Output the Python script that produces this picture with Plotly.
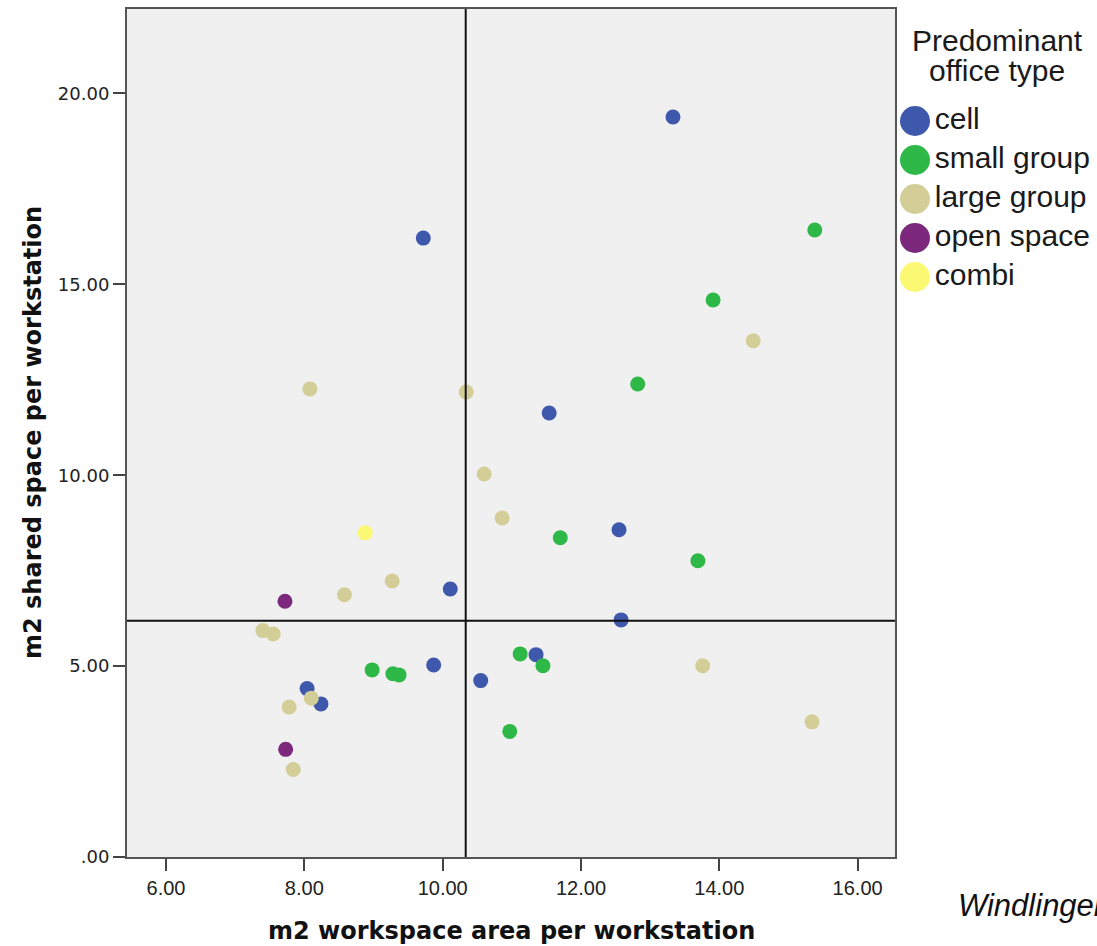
import plotly.graph_objects as go

# ---- data ----
categories = ["cell", "small group", "large group", "open space", "combi"]
colors = ["#3E58AC", "#2EB848", "#D3CE97", "#7C287D", "#FBF873"]

cell_x = [13.33, 9.72, 11.54, 12.55, 10.11, 12.58, 9.87, 11.35, 10.55, 8.04, 8.24]
cell_y = [19.38, 16.21, 11.63, 8.57, 7.02, 6.21, 5.03, 5.30, 4.62, 4.41, 4.01]

small_x = [15.38, 13.91, 12.82, 11.70, 13.69, 11.12, 11.45, 8.98, 9.28, 9.37, 10.97]
small_y = [16.42, 14.59, 12.39, 8.36, 7.76, 5.32, 5.01, 4.90, 4.80, 4.77, 3.29]

large_x = [14.49, 8.08, 10.34, 10.60, 10.86, 9.27, 8.58, 7.40, 7.55, 8.10, 7.78, 7.84, 13.76, 15.34]
large_y = [13.52, 12.26, 12.18, 10.03, 8.88, 7.23, 6.87, 5.93, 5.84, 4.16, 3.93, 2.29, 5.01, 3.54]

open_x = [7.72, 7.73]
open_y = [6.70, 2.82]

combi_x = [8.88]
combi_y = [8.49]

series_x = [cell_x, small_x, large_x, open_x, combi_x]
series_y = [cell_y, small_y, large_y, open_y, combi_y]

mean_x = 10.333
mean_y = 6.19

x_ticks = [6, 8, 10, 12, 14, 16]
x_tick_labels = ["6.00", "8.00", "10.00", "12.00", "14.00", "16.00"]
y_ticks = [0, 5, 10, 15, 20]
y_tick_labels = [".00", "5.00", "10.00", "15.00", "20.00"]

legend_title_lines = ["Predominant", "office type"]
x_title = "m2 workspace area per workstation"
y_title = "m2 shared space per workstation"
credit = "Windlinger"

# ---- layout geometry (pixels) ----
W, H = 1097, 946
ML, MT, MB = 127, 9, 89
PLOT_W = 768
plot_h = H - MT - MB
dom_main = PLOT_W / (W - ML)


def px_x(px):
    return (px - ML) / (W - ML)


def px_y(py):
    return (H - MB - py) / plot_h


fig = go.Figure()

for name, c, xs, ys in zip(categories, colors, series_x, series_y):
    fig.add_trace(go.Scatter(
        x=xs, y=ys, mode="markers", name=name, showlegend=False,
        marker=dict(size=15, color=c, line=dict(width=0)),
        xaxis="x", yaxis="y", cliponaxis=False,
    ))

# custom legend drawn on a helper axis (pixel units)
leg_y = [121 + 39 * i for i in range(len(categories))]
fig.add_trace(go.Scatter(
    x=[915 - (ML + PLOT_W)] * len(categories), y=leg_y,
    mode="markers+text", text=categories, textposition="middle right",
    textfont=dict(family="Liberation Sans, Arial", size=30, color="#1a1a1a"),
    marker=dict(size=30, color=colors, line=dict(width=0)),
    xaxis="x2", yaxis="y2", showlegend=False, cliponaxis=False, hoverinfo="skip",
))

# plot-area background
fig.add_shape(type="rect", xref="x domain", yref="y domain", x0=0, x1=1, y0=0, y1=1,
              fillcolor="#F0F0F0", line=dict(width=0), layer="below")
fig.add_shape(type="line", xref="x", yref="y domain", x0=mean_x, x1=mean_x, y0=0, y1=1,
              line=dict(color="#111111", width=2), layer="above")
fig.add_shape(type="line", xref="x domain", yref="y", x0=0, x1=1, y0=mean_y, y1=mean_y,
              line=dict(color="#111111", width=2), layer="above")

fig.update_layout(
    width=W, height=H,
    margin=dict(l=ML, r=0, t=MT, b=MB, pad=0),
    paper_bgcolor="white",
    plot_bgcolor="white",
    showlegend=False,
    xaxis=dict(
        domain=[0, dom_main], range=[5.436, 16.54],
        tickvals=x_ticks, ticktext=x_tick_labels,
        ticks="outside", ticklen=12, tickwidth=2, tickcolor="#444444",
        tickfont=dict(family="Liberation Sans, Arial", size=20, color="#222222"),
        showgrid=False, zeroline=False,
        showline=True, mirror=True, linecolor="#555555", linewidth=2,
    ),
    yaxis=dict(
        domain=[0, 1], range=[0, 22.21],
        tickvals=y_ticks, ticktext=y_tick_labels,
        ticks="outside", ticklen=12, tickwidth=2, tickcolor="#444444",
        tickfont=dict(family="DejaVu Sans", size=18, color="#222222"),
        showgrid=False, zeroline=False,
        showline=True, mirror=True, linecolor="#555555", linewidth=2,
    ),
    xaxis2=dict(domain=[dom_main, 1], range=[0, W - ML - PLOT_W], visible=False, anchor="y2"),
    yaxis2=dict(domain=[0, 1], range=[H - MB, MT], visible=False, anchor="x2"),
)

for line_text, cy in zip(legend_title_lines, [40, 70]):
    fig.add_annotation(
        text=line_text, xref="paper", yref="paper",
        x=px_x(997), y=px_y(cy),
        showarrow=False, xanchor="center", yanchor="middle",
        font=dict(family="Liberation Sans, Arial", size=30, color="#1a1a1a"),
    )
fig.add_annotation(
    text="<b>" + x_title + "</b>", xref="paper", yref="paper",
    x=dom_main / 2, y=px_y(931),
    showarrow=False, xanchor="center", yanchor="middle",
    font=dict(family="DejaVu Sans", size=24, color="#111111"),
)
fig.add_annotation(
    text="<b>" + y_title + "</b>", xref="paper", yref="paper",
    x=px_x(33), y=px_y(433), textangle=-90,
    showarrow=False, xanchor="center", yanchor="middle",
    font=dict(family="DejaVu Sans", size=24, color="#111111"),
)
fig.add_annotation(
    text="<i>" + credit + "</i>", xref="paper", yref="paper",
    x=px_x(956), y=px_y(905),
    showarrow=False, xanchor="left", yanchor="middle",
    font=dict(family="Liberation Sans, Arial", size=31, color="#111111"),
)

fig.write_html("out.html")
